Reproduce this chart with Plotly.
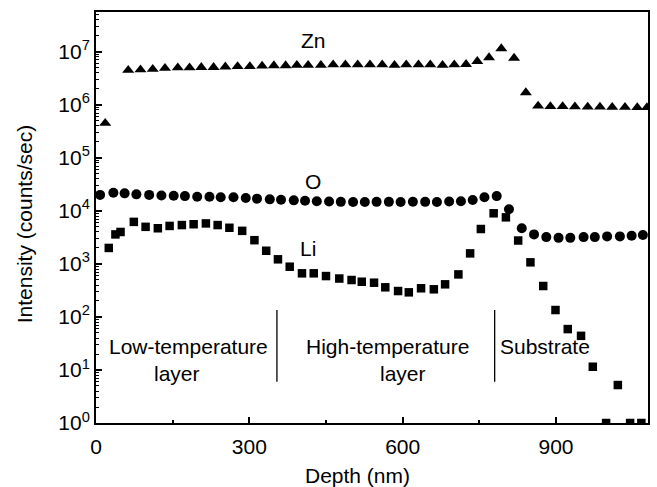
import math
import plotly.graph_objects as go

# ---- data ----
zn_depth = [18, 63, 87, 111, 135, 160, 183, 206, 230, 253, 277, 301, 325, 348, 371, 393,
            415, 440, 464, 488, 512, 536, 560, 584, 607, 631, 654, 678, 701, 724, 746,
            769, 793, 818, 841, 865, 889, 913, 937, 962, 986, 1010, 1035, 1059, 1078]
zn_val = [4.5e5, 4.5e6, 4.6e6, 4.7e6, 4.9e6, 5.0e6, 5.0e6, 5.1e6, 5.1e6, 5.2e6, 5.3e6,
          5.3e6, 5.4e6, 5.5e6, 5.5e6, 5.6e6, 5.6e6, 5.6e6, 5.7e6, 5.7e6, 5.7e6, 5.7e6,
          5.7e6, 5.6e6, 5.7e6, 5.7e6, 5.7e6, 5.6e6, 5.7e6, 5.8e6, 6.6e6, 7.8e6, 1.15e7,
          7.6e6, 1.7e6, 9.5e5, 9.3e5, 9.3e5, 9.2e5, 9.1e5, 9.1e5, 9.0e5, 9.0e5, 8.9e5, 8.9e5]

o_depth = [8, 34, 56, 79, 104, 128, 152, 174, 198, 222, 244, 269, 293, 315, 340, 362,
           387, 409, 432, 456, 479, 503, 526, 549, 573, 596, 620, 644, 667, 691, 714,
           737, 760, 784, 808, 833, 857, 881, 905, 928, 954, 976, 1000, 1025, 1048, 1070]
o_val = [2.0e4, 2.2e4, 2.14e4, 2.05e4, 2.0e4, 1.95e4, 1.93e4, 1.9e4, 1.85e4, 1.85e4,
         1.8e4, 1.8e4, 1.75e4, 1.7e4, 1.65e4, 1.62e4, 1.58e4, 1.55e4, 1.52e4, 1.5e4,
         1.48e4, 1.47e4, 1.47e4, 1.48e4, 1.48e4, 1.47e4, 1.49e4, 1.48e4, 1.47e4, 1.5e4,
         1.52e4, 1.6e4, 1.8e4, 1.9e4, 1.07e4, 4.7e3, 3.6e3, 3.2e3, 3.1e3, 3.1e3, 3.2e3,
         3.2e3, 3.3e3, 3.3e3, 3.4e3, 3.5e3]

li_depth = [25, 38, 48, 74, 97, 121, 144, 168, 191, 215, 238, 261, 286, 310, 333, 356,
            379, 403, 426, 450, 476, 500, 520, 544, 566, 591, 612, 636, 661, 683, 709,
            732, 753, 778, 802, 826, 850, 875, 899, 923, 949, 972, 998, 1021, 1045, 1067]
li_val = [2.0e3, 3.6e3, 4.0e3, 6.2e3, 5.0e3, 4.7e3, 5.2e3, 5.4e3, 5.6e3, 5.8e3, 5.4e3,
          4.8e3, 4.2e3, 2.8e3, 1.77e3, 1.22e3, 885, 664, 664, 590, 530, 497, 461, 442,
          362, 308, 291, 347, 332, 412, 634, 1.58e3, 4.55e3, 9.0e3, 7.55e3, 2.76e3,
          1.07e3, 383, 135, 59, 44, 11.5, 1.0, 5.2, 1.0, 1.0]

divider_depth = [354, 780]
divider_range = [6.0, 135]

x_ticks = [0, 300, 600, 900]
x_minor = [150, 450, 750, 1050]
y_ticks = [1e0, 1e1, 1e2, 1e3, 1e4, 1e5, 1e6, 1e7]
y_ticktext = ["10<sup>%d</sup>" % i for i in range(8)]

FONT = "Liberation Sans, Arial, sans-serif"
FS = 21

fig = go.Figure()
fig.add_trace(go.Scatter(x=zn_depth, y=zn_val, mode="markers",
                         marker=dict(symbol="triangle-up", size=10.5, color="black")))
fig.add_trace(go.Scatter(x=o_depth, y=o_val, mode="markers",
                         marker=dict(symbol="circle", size=10, color="black")))
fig.add_trace(go.Scatter(x=li_depth, y=li_val, mode="markers",
                         marker=dict(symbol="square", size=8.5, color="black")))
for d in divider_depth:
    fig.add_trace(go.Scatter(x=[d, d], y=divider_range, mode="lines",
                             line=dict(color="black", width=1.3)))

minor_y = [m * 10 ** e for e in range(0, 8) for m in range(2, 10)]

fig.update_layout(
    width=657, height=487,
    margin=dict(l=96, r=7, t=12, b=64),
    paper_bgcolor="white", plot_bgcolor="white",
    showlegend=False,
    font=dict(family=FONT, size=FS, color="black"),
    xaxis=dict(range=[0, 1080], tickmode="array", tickvals=x_ticks,
               ticks="inside", ticklen=6, tickwidth=1.5, tickcolor="black",
               showline=True, linecolor="black", linewidth=2, mirror=True,
               showgrid=False, zeroline=False, ticklabelstandoff=4,
               tickfont=dict(family=FONT, size=FS, color="black"),
               minor=dict(tickmode="array", tickvals=x_minor, ticks="inside",
                          ticklen=3, tickwidth=1.5, tickcolor="black", showgrid=False)),
    yaxis=dict(type="log", range=[0, 7.75], tickmode="array", tickvals=y_ticks,
               ticktext=y_ticktext,
               ticks="inside", ticklen=6, tickwidth=1.5, tickcolor="black",
               showline=True, linecolor="black", linewidth=2, mirror=True,
               showgrid=False, zeroline=False, ticklabelstandoff=0,
               tickfont=dict(family=FONT, size=FS, color="black"),
               minor=dict(tickmode="array", tickvals=minor_y, ticks="inside",
                          ticklen=3, tickwidth=1, tickcolor="black", showgrid=False)),
)

anns = [
    ("Zn", 426, 1.66e7),
    ("O", 424, 3.55e4),
    ("Li", 414, 1.97e3),
    ("Low-temperature", 180, 27.4),
    ("layer", 159, 8.6),
    ("High-temperature", 571, 27.4),
    ("layer", 600, 8.6),
    ("Substrate", 879, 27.4),
]
for txt, x, y in anns:
    fig.add_annotation(x=x, y=math.log10(y), text=txt, showarrow=False,
                       xref="x", yref="y", font=dict(family=FONT, size=FS, color="black"))

fig.add_annotation(text="Depth (nm)", xref="paper", yref="paper", x=(358 - 96) / 554,
                   y=-(475 - 423) / 411, showarrow=False, yanchor="middle",
                   font=dict(family=FONT, size=FS, color="black"))
fig.add_annotation(text="Intensity (counts/sec)", xref="paper", yref="paper",
                   x=-(96 - 24) / 554, y=(423 - 224) / 411, textangle=-90,
                   showarrow=False, xanchor="center", yanchor="middle",
                   font=dict(family=FONT, size=FS, color="black"))

fig.write_html("out.html")
